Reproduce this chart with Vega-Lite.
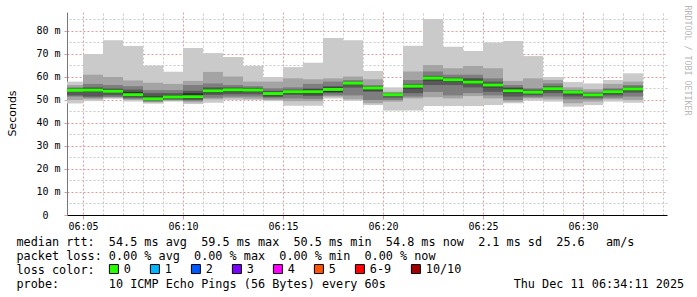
{
"$schema": "https://vega.github.io/schema/vega-lite/v6.json",
"width": 600, "height": 203,
"autosize": {"type": "none"},
"padding": {"left": 67, "top": 12, "right": 30, "bottom": 82},
"background": "white",
"config": {"view": {"stroke": null}, "font": "DejaVu Sans Mono"},
"data": {"values": [
{"t":"2025-12-11T06:04:00Z","t2":"2025-12-11T06:05:00Z","loss":"0","max":58,"p9":56.5,"p8":55.5,"p7":55,"p6":54.8,"med":54.2,"p5":53.5,"p4":52,"p3":51.5,"p2":50,"min":48.5},
{"t":"2025-12-11T06:05:00Z","t2":"2025-12-11T06:06:00Z","loss":"0","max":70,"p9":61,"p8":57,"p7":55.5,"p6":55,"med":54.3,"p5":53.5,"p4":51.5,"p3":51,"p2":50.3,"min":49.5},
{"t":"2025-12-11T06:06:00Z","t2":"2025-12-11T06:07:00Z","loss":"0","max":76,"p9":60,"p8":56.5,"p7":55,"p6":54.5,"med":53.8,"p5":53,"p4":52,"p3":51.3,"p2":51,"min":50.5},
{"t":"2025-12-11T06:07:00Z","t2":"2025-12-11T06:08:00Z","loss":"0","max":73.5,"p9":58.5,"p8":56,"p7":54.5,"p6":53.5,"med":52.3,"p5":51.5,"p4":51,"p3":50.5,"p2":50,"min":49.3},
{"t":"2025-12-11T06:08:00Z","t2":"2025-12-11T06:09:00Z","loss":"0","max":65,"p9":57.5,"p8":54.3,"p7":53,"p6":51.5,"med":50.5,"p5":50,"p4":49.8,"p3":49.3,"p2":49,"min":48.4},
{"t":"2025-12-11T06:09:00Z","t2":"2025-12-11T06:10:00Z","loss":"0","max":62.3,"p9":57,"p8":54.3,"p7":53,"p6":52,"med":51.3,"p5":50.6,"p4":50.3,"p3":50,"p2":49.7,"min":49.3},
{"t":"2025-12-11T06:10:00Z","t2":"2025-12-11T06:11:00Z","loss":"0","max":72.6,"p9":58.3,"p8":56.5,"p7":54,"p6":53,"med":51.4,"p5":50.5,"p4":50,"p3":49.7,"p2":49,"min":48.3},
{"t":"2025-12-11T06:11:00Z","t2":"2025-12-11T06:12:00Z","loss":"0","max":70.4,"p9":62.2,"p8":57.2,"p7":55.5,"p6":54.8,"med":54,"p5":53,"p4":52.2,"p3":51,"p2":50.3,"min":48.8},
{"t":"2025-12-11T06:12:00Z","t2":"2025-12-11T06:13:00Z","loss":"0","max":68.7,"p9":60.2,"p8":56.5,"p7":55.5,"p6":55,"med":54.4,"p5":53.5,"p4":52.5,"p3":51.5,"p2":50.8,"min":50},
{"t":"2025-12-11T06:13:00Z","t2":"2025-12-11T06:14:00Z","loss":"0","max":64.8,"p9":58,"p8":56,"p7":55.3,"p6":54.9,"med":54.3,"p5":53.5,"p4":52.5,"p3":51.5,"p2":50.5,"min":50},
{"t":"2025-12-11T06:14:00Z","t2":"2025-12-11T06:15:00Z","loss":"0","max":60,"p9":58,"p8":55.1,"p7":54,"p6":53.5,"med":52.8,"p5":52,"p4":51.3,"p3":50.7,"p2":50,"min":49.5},
{"t":"2025-12-11T06:15:00Z","t2":"2025-12-11T06:16:00Z","loss":"0","max":64.3,"p9":59.4,"p8":55.5,"p7":54.5,"p6":54.2,"med":53.6,"p5":52.8,"p4":52.2,"p3":50.7,"p2":49.5,"min":47.5},
{"t":"2025-12-11T06:16:00Z","t2":"2025-12-11T06:17:00Z","loss":"0","max":66.2,"p9":59,"p8":57,"p7":55,"p6":54.5,"med":53.6,"p5":52.5,"p4":51.7,"p3":50.5,"p2":49.5,"min":47.5},
{"t":"2025-12-11T06:17:00Z","t2":"2025-12-11T06:18:00Z","loss":"0","max":77,"p9":59.4,"p8":58,"p7":56,"p6":55.5,"med":54.6,"p5":53.5,"p4":53,"p3":52,"p2":51.5,"min":50.7},
{"t":"2025-12-11T06:18:00Z","t2":"2025-12-11T06:19:00Z","loss":"0","max":76,"p9":60.2,"p8":58.7,"p7":58,"p6":57.7,"med":57.3,"p5":56.5,"p4":55.4,"p3":52,"p2":50.3,"min":49.7},
{"t":"2025-12-11T06:19:00Z","t2":"2025-12-11T06:20:00Z","loss":"0","max":62.6,"p9":59,"p8":56.5,"p7":56,"p6":55.7,"med":55.2,"p5":54.2,"p4":53.6,"p3":50,"p2":48.6,"min":47.8},
{"t":"2025-12-11T06:20:00Z","t2":"2025-12-11T06:21:00Z","loss":"0","max":55.5,"p9":53.6,"p8":53.2,"p7":53,"p6":52.8,"med":52.3,"p5":51.7,"p4":51,"p3":50,"p2":49.3,"min":45.4},
{"t":"2025-12-11T06:21:00Z","t2":"2025-12-11T06:22:00Z","loss":"0","max":73.6,"p9":62.4,"p8":58.7,"p7":57,"p6":56.5,"med":56,"p5":55,"p4":53,"p3":51.5,"p2":50.7,"min":45.4},
{"t":"2025-12-11T06:22:00Z","t2":"2025-12-11T06:23:00Z","loss":"0","max":85.2,"p9":65.2,"p8":62.4,"p7":60.5,"p6":59.9,"med":59.5,"p5":58.5,"p4":56.5,"p3":53.5,"p2":51.2,"min":47.4},
{"t":"2025-12-11T06:23:00Z","t2":"2025-12-11T06:24:00Z","loss":"0","max":73.2,"p9":63.8,"p8":61,"p7":59.8,"p6":59.4,"med":58.8,"p5":58,"p4":56.5,"p3":52,"p2":50.7,"min":47.4},
{"t":"2025-12-11T06:24:00Z","t2":"2025-12-11T06:25:00Z","loss":"0","max":71.3,"p9":64.8,"p8":61,"p7":59.5,"p6":58.8,"med":57.8,"p5":57,"p4":55.5,"p3":53,"p2":51.7,"min":47.4},
{"t":"2025-12-11T06:25:00Z","t2":"2025-12-11T06:26:00Z","loss":"0","max":75,"p9":63.8,"p8":59.4,"p7":58,"p6":57.2,"med":56.5,"p5":55.5,"p4":53.6,"p3":52,"p2":50.7,"min":47.8},
{"t":"2025-12-11T06:26:00Z","t2":"2025-12-11T06:27:00Z","loss":"0","max":75.7,"p9":58.3,"p8":56.5,"p7":55.5,"p6":55,"med":54,"p5":53,"p4":51.5,"p3":50,"p2":49.3,"min":48.6},
{"t":"2025-12-11T06:27:00Z","t2":"2025-12-11T06:28:00Z","loss":"0","max":69.1,"p9":59.4,"p8":55.1,"p7":54.5,"p6":54,"med":53.4,"p5":52.8,"p4":52,"p3":51.2,"p2":50.7,"min":49.7},
{"t":"2025-12-11T06:28:00Z","t2":"2025-12-11T06:29:00Z","loss":"0","max":60,"p9":58.7,"p8":57.2,"p7":56,"p6":55.5,"med":54.9,"p5":54,"p4":53,"p3":51.5,"p2":50.3,"min":49.3},
{"t":"2025-12-11T06:29:00Z","t2":"2025-12-11T06:30:00Z","loss":"0","max":57.8,"p9":55.5,"p8":54.3,"p7":54,"p6":53.8,"med":53.4,"p5":52.5,"p4":51.5,"p3":50.3,"p2":48.6,"min":47.1},
{"t":"2025-12-11T06:30:00Z","t2":"2025-12-11T06:31:00Z","loss":"0","max":57.2,"p9":54.7,"p8":53.6,"p7":53,"p6":52.7,"med":52.2,"p5":51.5,"p4":51,"p3":50.3,"p2":49.3,"min":47.8},
{"t":"2025-12-11T06:31:00Z","t2":"2025-12-11T06:32:00Z","loss":"0","max":58.7,"p9":57,"p8":55.1,"p7":54.5,"p6":54.2,"med":53.6,"p5":52.8,"p4":52,"p3":51,"p2":50.3,"min":49.3},
{"t":"2025-12-11T06:32:00Z","t2":"2025-12-11T06:33:00Z","loss":"0","max":61.6,"p9":58,"p8":56.5,"p7":55.8,"p6":55.4,"med":54.8,"p5":54,"p4":53.2,"p3":51.5,"p2":50,"min":48.8}
]},
"layer": [
  {"mark": {"type": "bar", "color": "#cacaca", "clip": true},
   "encoding": {
     "x": {"field": "t", "type": "temporal",
       "scale": {"type": "utc", "domain": [
         {"year": 2025, "month": 12, "date": 11, "hours": 6, "minutes": 4, "seconds": 12, "utc": true},
         {"year": 2025, "month": 12, "date": 11, "hours": 6, "minutes": 34, "seconds": 12, "utc": true}], "nice": false},
       "axis": {"orient": "bottom", "format": "%H:%M",
         "values": [
           {"year": 2025, "month": 12, "date": 11, "hours": 6, "minutes": 5, "utc": true},
           {"year": 2025, "month": 12, "date": 11, "hours": 6, "minutes": 10, "utc": true},
           {"year": 2025, "month": 12, "date": 11, "hours": 6, "minutes": 15, "utc": true},
           {"year": 2025, "month": 12, "date": 11, "hours": 6, "minutes": 20, "utc": true},
           {"year": 2025, "month": 12, "date": 11, "hours": 6, "minutes": 25, "utc": true},
           {"year": 2025, "month": 12, "date": 11, "hours": 6, "minutes": 30, "utc": true}],
         "grid": true, "gridColor": "#e89a9a", "gridDash": [2, 2], "gridWidth": 1,
         "domainColor": "#000000", "domainWidth": 1,
         "ticks": true, "tickColor": "#e89a9a", "tickSize": 4,
         "labelFont": "DejaVu Sans Mono", "labelFontSize": 10, "labelColor": "#000000", "labelPadding": 2,
         "title": [
           "median rtt:\u00a0\u00a054.5 ms avg\u00a0\u00a059.5 ms max\u00a0\u00a050.5 ms min\u00a0\u00a054.8 ms now\u00a0\u00a02.1 ms sd\u00a0\u00a025.6\u00a0\u00a0\u00a0am/s",
           "packet loss: 0.00 % avg\u00a0\u00a00.00 % max\u00a0\u00a00.00 % min\u00a0\u00a00.00 % now",
           "loss color:",
           "probe:\u00a0\u00a0\u00a0\u00a0\u00a0\u00a0\u00a010 ICMP Echo Pings (56 Bytes) every 60s\u00a0\u00a0\u00a0\u00a0\u00a0\u00a0\u00a0\u00a0\u00a0\u00a0\u00a0\u00a0\u00a0\u00a0\u00a0\u00a0\u00a0\u00a0Thu Dec 11 06:34:11 2025"],
         "titleFont": "DejaVu Sans Mono", "titleFontSize": 11.8, "titleFontWeight": "normal", "titleColor": "#000000",
         "titleLineHeight": 14, "titleAnchor": "start", "titleAlign": "left", "titleBaseline": "top",
         "titleX": -51, "titleY": 21}},
     "x2": {"field": "t2"},
     "y": {"field": "min", "type": "quantitative",
       "scale": {"domain": [0, 88.26], "nice": false, "zero": false},
       "axis": {"orient": "left", "values": [0, 10, 20, 30, 40, 50, 60, 70, 80], "labelOverlap": false,
         "labelExpr": "datum.value == 0 ? '0' : datum.value + ' m'",
         "labelPadding": {"condition": {"test": "datum.value == 0", "value": 16}, "value": 4},
         "grid": true, "gridColor": "#e89a9a", "gridDash": [2, 2], "gridWidth": 1,
         "domainColor": "#777777", "ticks": true, "tickSize": 3, "tickColor": "#e89a9a",
         "labelFont": "DejaVu Sans Mono", "labelFontSize": 10, "labelColor": "#000000",
         "title": "Seconds", "titleFont": "DejaVu Sans", "titleFontSize": 11, "titleFontWeight": "normal",
         "titleColor": "#000000", "titleAngle": 270, "titleX": -52, "titleY": 101,
         "titleAlign": "center", "titleBaseline": "alphabetic"}},
     "y2": {"field": "max"}}},
  {"mark": {"type": "bar", "color": "#a4a4a4", "clip": true},
   "encoding": {"x": {"field": "t", "type": "temporal", "axis": null}, "x2": {"field": "t2"},
     "y": {"field": "p2", "type": "quantitative", "axis": null}, "y2": {"field": "p9"}}},
  {"mark": {"type": "bar", "color": "#7e7e7e", "clip": true},
   "encoding": {"x": {"field": "t", "type": "temporal", "axis": null}, "x2": {"field": "t2"},
     "y": {"field": "p3", "type": "quantitative", "axis": null}, "y2": {"field": "p8"}}},
  {"mark": {"type": "bar", "color": "#585858", "clip": true},
   "encoding": {"x": {"field": "t", "type": "temporal", "axis": null}, "x2": {"field": "t2"},
     "y": {"field": "p4", "type": "quantitative", "axis": null}, "y2": {"field": "p7"}}},
  {"mark": {"type": "bar", "color": "#323232", "clip": true},
   "encoding": {"x": {"field": "t", "type": "temporal", "axis": null}, "x2": {"field": "t2"},
     "y": {"field": "p5", "type": "quantitative", "axis": null}, "y2": {"field": "p6"}}},
  {"mark": {"type": "tick", "orient": "horizontal", "thickness": 3, "size": 20, "xOffset": 10, "clip": true, "opacity": 1},
   "encoding": {
     "x": {"field": "t", "type": "temporal",
       "axis": {"orient": "top", "title": null, "labels": false, "ticks": false, "domain": false,
         "grid": true, "gridColor": "#c8c8c8", "gridDash": [2, 2], "gridWidth": 1,
         "values": [
           {"year": 2025, "month": 12, "date": 11, "hours": 6, "minutes": 6, "utc": true},
           {"year": 2025, "month": 12, "date": 11, "hours": 6, "minutes": 7, "utc": true},
           {"year": 2025, "month": 12, "date": 11, "hours": 6, "minutes": 8, "utc": true},
           {"year": 2025, "month": 12, "date": 11, "hours": 6, "minutes": 9, "utc": true},
           {"year": 2025, "month": 12, "date": 11, "hours": 6, "minutes": 11, "utc": true},
           {"year": 2025, "month": 12, "date": 11, "hours": 6, "minutes": 12, "utc": true},
           {"year": 2025, "month": 12, "date": 11, "hours": 6, "minutes": 13, "utc": true},
           {"year": 2025, "month": 12, "date": 11, "hours": 6, "minutes": 14, "utc": true},
           {"year": 2025, "month": 12, "date": 11, "hours": 6, "minutes": 16, "utc": true},
           {"year": 2025, "month": 12, "date": 11, "hours": 6, "minutes": 17, "utc": true},
           {"year": 2025, "month": 12, "date": 11, "hours": 6, "minutes": 18, "utc": true},
           {"year": 2025, "month": 12, "date": 11, "hours": 6, "minutes": 19, "utc": true},
           {"year": 2025, "month": 12, "date": 11, "hours": 6, "minutes": 21, "utc": true},
           {"year": 2025, "month": 12, "date": 11, "hours": 6, "minutes": 22, "utc": true},
           {"year": 2025, "month": 12, "date": 11, "hours": 6, "minutes": 23, "utc": true},
           {"year": 2025, "month": 12, "date": 11, "hours": 6, "minutes": 24, "utc": true},
           {"year": 2025, "month": 12, "date": 11, "hours": 6, "minutes": 26, "utc": true},
           {"year": 2025, "month": 12, "date": 11, "hours": 6, "minutes": 27, "utc": true},
           {"year": 2025, "month": 12, "date": 11, "hours": 6, "minutes": 28, "utc": true},
           {"year": 2025, "month": 12, "date": 11, "hours": 6, "minutes": 29, "utc": true},
           {"year": 2025, "month": 12, "date": 11, "hours": 6, "minutes": 31, "utc": true},
           {"year": 2025, "month": 12, "date": 11, "hours": 6, "minutes": 32, "utc": true},
           {"year": 2025, "month": 12, "date": 11, "hours": 6, "minutes": 33, "utc": true},
           {"year": 2025, "month": 12, "date": 11, "hours": 6, "minutes": 34, "utc": true}]}},
     "y": {"field": "med", "type": "quantitative",
       "axis": {"orient": "right", "values": [5, 15, 25, 35, 45, 55, 65, 75, 85],
         "labels": false, "ticks": false, "domain": false,
         "grid": true, "gridColor": "#c8c8c8", "gridDash": [2, 2], "gridWidth": 1,
         "title": "RRDTOOL / TOBI OETIKER", "titleFont": "DejaVu Sans Mono", "titleFontSize": 8.3,
         "titleFontWeight": "normal", "titleColor": "#b8b8b8", "titleAngle": 90,
         "titleX": 17, "titleY": -7, "titleAlign": "left", "titleBaseline": "alphabetic"}},
     "color": {"field": "loss", "type": "nominal",
       "scale": {"domain": ["0", "1", "2", "3", "4", "5", "6-9", "10/10"],
         "range": ["#26ff00", "#00b8ff", "#0059ff", "#7e00ff", "#ff00ff", "#ff5500", "#ff0000", "#a10000"]},
       "legend": {"orient": "none", "legendX": 41, "legendY": 251, "direction": "horizontal", "title": null,
         "symbolType": "square", "symbolSize": 81, "symbolStrokeWidth": 1, "symbolStrokeColor": "#000000",
         "symbolOpacity": 1,
         "labelFont": "DejaVu Sans Mono", "labelFontSize": 11.8, "labelColor": "#000000",
         "labelOffset": 4, "columnPadding": 17, "padding": 0}}}}
],
"resolve": {"scale": {"x": "shared", "y": "shared"}, "axis": {"x": "independent", "y": "independent"}}
}
